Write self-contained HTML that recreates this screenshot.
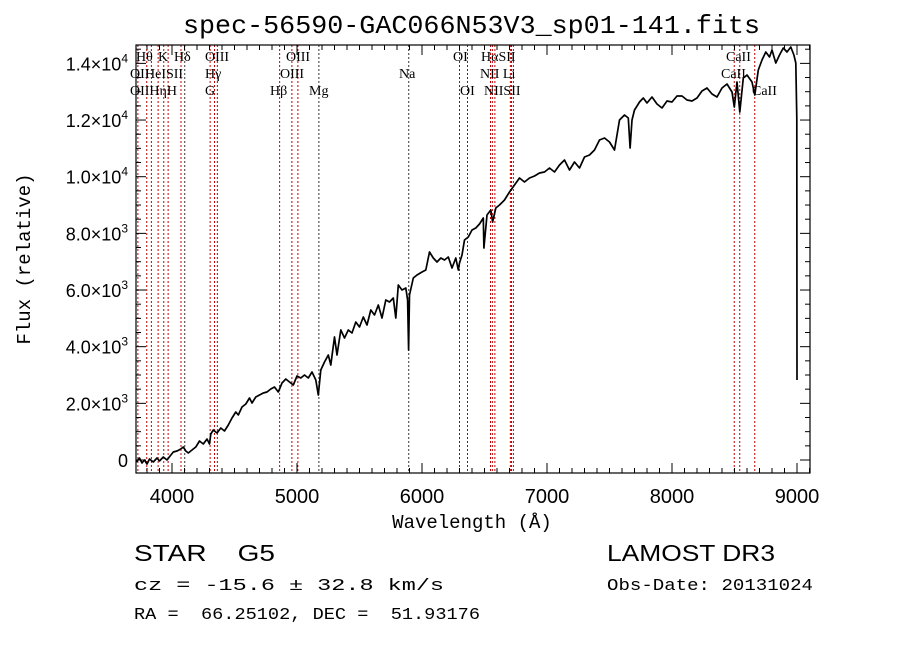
<!DOCTYPE html>
<html><head><meta charset="utf-8"><style>
html,body{margin:0;padding:0;background:#fff;}
svg{display:block;}
.t{font-family:"Liberation Sans",sans-serif;fill:#000;white-space:pre;}
.m{font-family:"Liberation Mono",monospace;fill:#000;white-space:pre;}
.s{font-family:"Liberation Serif",serif;fill:#000;font-size:14px;}
</style></head><body>
<svg id="chart" width="900" height="649" viewBox="0 0 900 649">
<rect x="0" y="0" width="900" height="649" fill="#fff"/>
<text class="m" x="183" y="33" font-size="26" textLength="577" lengthAdjust="spacingAndGlyphs">spec-56590-GAC066N53V3_sp01-141.fits</text>
<g id="lines"></g>
<g id="spec"></g>
<rect x="136" y="45" width="674" height="428" fill="none" stroke="#000" stroke-width="1.2"/>
<g id="axes"></g>
<g>
<text class="s" x="136" y="61">Hθ</text>
<text class="s" x="158" y="61">K</text>
<text class="s" x="174" y="61">Hδ</text>
<text class="s" x="205" y="61">OIII</text>
<text class="s" x="286" y="61">OIII</text>
<text class="s" x="453" y="61">OI</text>
<text class="s" x="481" y="61">HαSII</text>
<text class="s" x="726" y="61">CaII</text>
<text class="s" x="130" y="78">OII</text>
<text class="s" x="145" y="78">HeISII</text>
<text class="s" x="205" y="78">Hγ</text>
<text class="s" x="280" y="78">OIII</text>
<text class="s" x="399" y="78">Na</text>
<text class="s" x="480" y="78">NII Li</text>
<text class="s" x="721" y="78">CaII</text>
<text class="s" x="130" y="95">OIIHηH</text>
<text class="s" x="205" y="95">G</text>
<text class="s" x="270" y="95">Hβ</text>
<text class="s" x="309" y="95">Mg</text>
<text class="s" x="460" y="95">OI</text>
<text class="s" x="484" y="95">NIISII</text>
<text class="s" x="752" y="95">CaII</text>
</g>
<text class="m" x="472" y="528" font-size="19" text-anchor="middle">Wavelength (Å)</text>
<text class="m" x="30" y="259" font-size="19" text-anchor="middle" transform="rotate(-90 30 259)">Flux (relative)</text>
<text class="t" x="134" y="561" font-size="23" xml:space="preserve" textLength="141" lengthAdjust="spacingAndGlyphs">STAR    G5</text>
<text class="m" x="134" y="590" font-size="17" xml:space="preserve" textLength="310" lengthAdjust="spacingAndGlyphs">cz = -15.6 ± 32.8 km/s</text>
<text class="m" x="134" y="619" font-size="17" xml:space="preserve" textLength="346" lengthAdjust="spacingAndGlyphs">RA =  66.25102, DEC =  51.93176</text>
<text class="t" x="607" y="561" font-size="23" textLength="168" lengthAdjust="spacingAndGlyphs">LAMOST DR3</text>
<text class="m" x="607" y="590" font-size="17" textLength="206" lengthAdjust="spacingAndGlyphs">Obs-Date: 20131024</text>
</svg>
<script>
const waves=[3715,3740,3760,3780,3800,3820,3850,3880,3900,3930,3960,3985,4010,4040,4070,4090,4110,4130,4160,4190,4220,4250,4280,4300,4310,4330,4360,4390,4420,4450,4480,4510,4530,4560,4590,4620,4640,4670,4700,4730,4760,4790,4820,4850,4880,4910,4940,4970,5000,5030,5060,5090,5120,5150,5170,5190,5220,5250,5270,5300,5320,5350,5380,5410,5440,5470,5500,5530,5560,5590,5620,5650,5680,5710,5740,5770,5790,5810,5840,5870,5885,5893,5900,5930,5960,6000,6030,6060,6090,6120,6150,6180,6210,6240,6270,6290,6300,6320,6340,6370,6400,6430,6460,6490,6495,6520,6550,6565,6590,6620,6660,6700,6740,6780,6820,6860,6900,6940,6980,7020,7060,7100,7140,7180,7220,7260,7300,7340,7380,7420,7460,7500,7540,7580,7620,7650,7665,7680,7700,7740,7770,7800,7840,7880,7920,7960,8000,8040,8080,8120,8160,8200,8240,8280,8320,8360,8400,8440,8480,8498,8520,8542,8570,8600,8640,8662,8690,8720,8750,8780,8800,8830,8860,8890,8920,8950,8975,8990,8998,9000];
const flux=[-71,71,-106,0,-141,35,-71,71,-35,106,0,141,282,318,388,459,318,247,353,459,671,565,741,565,918,1059,953,1130,1024,1236,1483,1694,1589,1871,1977,2189,2012,2224,2295,2365,2400,2506,2577,2400,2718,2859,2753,2648,2965,2895,3001,2895,3106,2824,2295,3177,3459,3707,3354,4342,3707,4589,4307,4589,4483,4871,4695,5048,4766,5295,5119,5472,5013,5648,5577,5719,5013,6178,6001,6072,5648,3883,5825,6425,6531,6636,6707,7342,7131,6990,7131,7060,7166,6778,7131,6707,6954,7237,7766,7872,8119,8190,8331,8543,7484,8649,8825,8402,8896,9002,9178,9460,9708,9955,9814,9955,10025,10131,10166,10308,10166,10413,10590,10237,10519,10308,10696,10767,10943,11296,11367,11225,10943,12002,12179,12073,11014,12002,12355,12637,12779,12602,12814,12567,12426,12673,12637,12849,12849,12708,12673,12779,13026,13132,12920,12814,13132,13273,12990,12461,13343,12284,13485,13590,13343,12884,13767,14120,14402,14226,14473,14014,14297,14544,14402,14579,14297,14014,12073,2824];
const lineWaves=[3727,3798,3835,3889,3934,3969,4072,4102,4305,4340,4363,4861,4959,5007,5175,5894,6300,6364,6548,6563,6583,6707,6716,6731,8498,8542,8662];
const lineDark=[0,0,0,0,0,0,0,1,0,0,0,0,0,0,1,1,0,0,0,0,0,0,0,0,0,0,0];
const xTicks=[4000,5000,6000,7000,8000,9000];
const yTicks=[0,2000,4000,6000,8000,10000,12000,14000];
const yTickLabels=["0","2.0","4.0","6.0","8.0","1.0","1.2","1.4"];
const yTickExp=["","3","3","3","3","4","4","4"];

const X0=136,X1=810,Y0=45,Y1=473;
function xs(w){return 172+(w-4000)*0.125;}
function ys(f){return 460-f*0.02833;}
const NS="http://www.w3.org/2000/svg";
function mk(tag,attrs,parent){const e=document.createElementNS(NS,tag);for(const k in attrs)e.setAttribute(k,attrs[k]);parent.appendChild(e);return e;}

const lg=document.getElementById('lines');
lineWaves.forEach((w,i)=>{
  const l=mk('line',{x1:xs(w),x2:xs(w),y1:Y0,y2:Y1,stroke:lineDark[i]?'#333':'#c00000','stroke-width':1,'stroke-dasharray':'2,2'},lg);
  
  
});

const sg=document.getElementById('spec');
let d='';
waves.forEach((w,i)=>{d+=(i?'L':'M')+xs(w).toFixed(1)+','+ys(flux[i]).toFixed(1);});
const p=mk('path',{d:d,fill:'none',stroke:'#000','stroke-width':1.7,'stroke-linejoin':'round'},sg);



const ag=document.getElementById('axes');
for(let w=3800;w<=9100;w+=100){
  const x=xs(w); if(x<X0||x>X1)continue;
  const L=(w%1000===0)?10:5;
  const a=mk('line',{x1:x,x2:x,y1:Y1,y2:Y1-L,stroke:'#000'},ag);
  
  
  const b=mk('line',{x1:x,x2:x,y1:Y0,y2:Y0+L,stroke:'#000'},ag);
  
  
}
xTicks.forEach(w=>{
  const t=mk('text',{x:xs(w),y:503,'font-size':20,'text-anchor':'middle',class:'t'},ag);
  t.textContent=String(w);
  
  
});
for(let f=0;f<=14500;f+=500){
  const y=ys(f);
  const L=(f%2000===0)?10:5;
  const a=mk('line',{x1:X0,x2:X0+L,y1:y,y2:y,stroke:'#000'},ag);
  
  
  const b=mk('line',{x1:X1,x2:X1-L,y1:y,y2:y,stroke:'#000'},ag);
  
  
}
yTicks.forEach((f,i)=>{
  const t=mk('text',{x:128,y:ys(f)+7,'font-size':18,'text-anchor':'end',class:'t'},ag);
  
  
  if(yTickExp[i]){
    const a=mk('tspan',{},t);a.textContent=yTickLabels[i]+'×10';
    const b=mk('tspan',{dy:-8,'font-size':12},t);b.textContent=yTickExp[i];
  } else t.textContent=yTickLabels[i];
});
</script>
</body></html>
